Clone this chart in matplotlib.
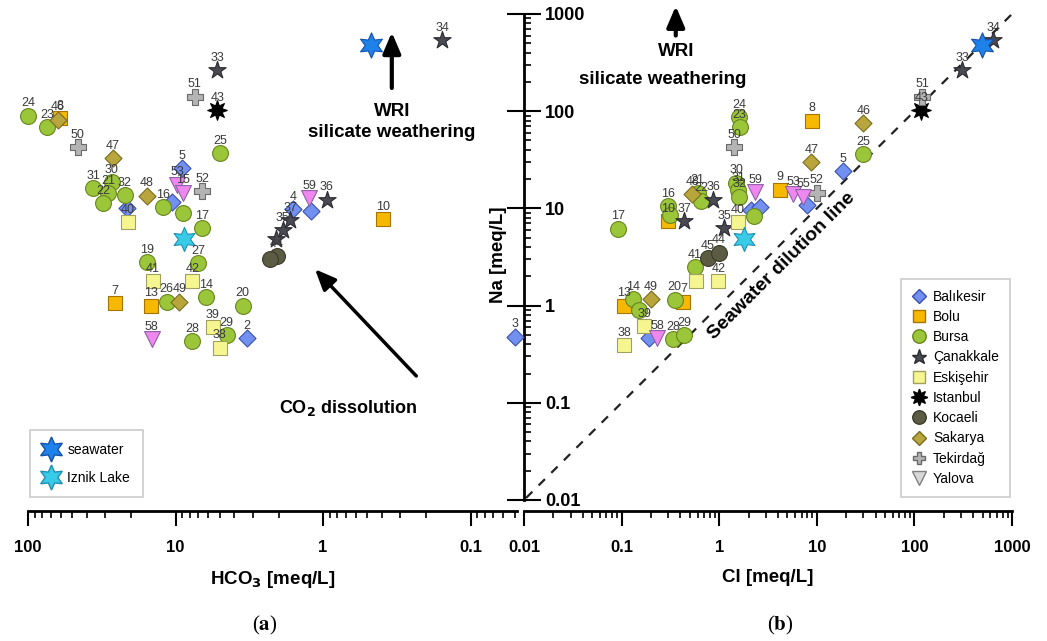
import matplotlib
matplotlib.use('Agg')
import matplotlib.pyplot as plt
from matplotlib.lines import Line2D
from matplotlib.ticker import LogLocator, NullFormatter
import numpy as np

plt.rcParams['font.family'] = ['Liberation Sans', 'DejaVu Sans']

regions = ['Balıkesir', 'Bolu', 'Bursa', 'Çanakkale', 'Eskişehir',
           'Istanbul', 'Kocaeli', 'Sakarya', 'Tekirdağ', 'Yalova']

# panel (a): HCO3 vs Na
a_reg = ['Balıkesir'] * 6 + ['Bolu'] * 4 + ['Bursa'] * 18 + ['Çanakkale'] * 6 + \
        ['Eskişehir'] * 5 + ['Istanbul'] + ['Kocaeli'] * 2 + ['Sakarya'] * 4 + \
        ['Tekirdağ'] * 3 + ['Yalova'] * 4
a_lab = ['5', '', '', '4', '', '2',
         '8', '7', '13', '10',
         '24', '23', '31', '30', '21', '22', '32', '16', '', '25', '17', '19', '27', '14', '26', '20', '28', '29',
         '34', '33', '36', '37', '35', '',
         '40', '41', '42', '39', '38',
         '43',
         '44', '',
         '46', '47', '48', '49',
         '51', '50', '52',
         '53', '15', '58', '59']
a_hco3 = [9.1, 10.6, 21.3, 1.6, 1.21, 3.3,
          61, 25.8, 14.6, 0.39,
          100, 74, 36, 27, 28.7, 31, 22, 12.2, 8.9, 5.0, 6.6, 15.7, 7.0, 6.2, 11.5, 3.5, 7.7, 4.5,
          0.155, 5.2, 0.94, 1.67, 1.87, 2.07,
          21, 14.3, 7.7, 5.6, 5.0,
          5.2,
          2.05, 2.3,
          63, 26.5, 15.7, 9.4,
          7.4, 46, 6.6,
          9.7, 8.9, 14.5, 1.24]
a_na = [26, 11.6, 10.1, 9.8, 9.3, 0.46,
        85, 1.06, 1.0, 7.7,
        90, 68, 16.2, 18.7, 14.4, 11.4, 13.7, 10.3, 9.0, 37, 6.3, 2.8, 2.75, 1.23, 1.1, 1.0, 0.43, 0.5,
        540, 266, 12.3, 7.6, 6.0, 4.8,
        7.2, 1.8, 1.8, 0.6, 0.37,
        103,
        3.2, 3.0,
        82, 33, 13.5, 1.1,
        141, 43, 15,
        17.6, 14.5, 0.45, 12.8]

# panel (b): Cl vs Na
b_reg = ['Balıkesir'] * 6 + ['Bolu'] * 5 + ['Bursa'] * 18 + ['Çanakkale'] * 5 + \
        ['Eskişehir'] * 5 + ['Istanbul'] + ['Kocaeli'] * 2 + ['Sakarya'] * 4 + \
        ['Tekirdağ'] * 3 + ['Yalova'] * 4
b_lab = ['3', '5', '', '', '', '',
         '8', '9', '10', '7', '13',
         '24', '23', '25', '17', '16', '', '21', '22', '30', '31', '32', '', '41', '14', '', '20', '28', '29',
         '34', '33', '36', '37', '35',
         '40', '', '42', '39', '38',
         '43',
         '45', '44',
         '46', '47', '48', '49',
         '51', '50', '52',
         '53', '55', '59', '58']
b_cl = [0.0081, 18.4, 8.0, 2.12, 2.6, 0.19,
        8.9, 4.2, 0.30, 0.43, 0.107,
        1.6, 1.62, 30, 0.091, 0.30, 0.31, 0.6, 0.65, 1.49, 1.56, 1.60, 2.27, 0.56, 0.13, 0.15, 0.35, 0.34, 0.44,
        640, 309, 0.87, 0.44, 1.12,
        1.56, 0.58, 0.98, 0.17, 0.107,
        118,
        0.77, 0.99,
        30, 8.8, 0.53, 0.2,
        120, 1.42, 10,
        5.7, 7.3, 2.33, 0.23]
b_na = [0.48, 24, 10.9, 9.7, 10.4, 0.46,
        80, 15.6, 7.4, 1.1, 1.0,
        87, 68, 36, 6.2, 10.5, 8.6, 14.5, 12.0, 18.4, 15.5, 13.2, 8.3, 2.5, 1.16, 0.91, 1.15, 0.45, 0.5,
        540, 266, 12.3, 7.4, 6.3,
        7.2, 1.8, 1.8, 0.62, 0.39,
        103,
        3.1, 3.5,
        76, 30, 14.0, 1.16,
        141, 43, 14.5,
        13.9, 13.2, 14.7, 0.46]

# reference waters: [panel a x, panel b x, Na]
seawater = [0.47, 494, 480]
iznik = [8.7, 1.8, 4.8]
dilution_cl = [0.0105, 1000]
dilution_ratio = 1.0

style = {
    'Balıkesir': dict(marker='D', s=75, c='#7290f0', edgecolors='#3a4fb0'),
    'Bolu': dict(marker='s', s=110, c='#f6b800', edgecolors='#a87400'),
    'Bursa': dict(marker='o', s=130, c='#9cc63a', edgecolors='#67861c'),
    'Çanakkale': dict(marker='*', s=170, c='#4a4a52', edgecolors='#2a2a30'),
    'Eskişehir': dict(marker='s', s=110, c='#f6f690', edgecolors='#a0a060'),
    'Istanbul': dict(marker=(8, 1, 0), s=200, c='#000000', edgecolors='#000000'),
    'Kocaeli': dict(marker='o', s=130, c='#5c5c44', edgecolors='#3a3a2a'),
    'Sakarya': dict(marker='D', s=75, c='#b8a63c', edgecolors='#7a6c20'),
    'Tekirdağ': dict(marker='P', s=120, c='#b4b4b4', edgecolors='#6a6a6a'),
    'Yalova': dict(marker='v', s=130, c='#ee88ee', edgecolors='#9060a8'),
}

fig = plt.figure(figsize=(10.47, 6.41), dpi=100)
axa = fig.add_axes([28 / 1047, 1 - 500 / 641, 489 / 1047, 486 / 641])
axb = fig.add_axes([524 / 1047, 1 - 500 / 641, 488 / 1047, 486 / 641])


def draw_points(ax, regs, labs, xs, ys):
    regs = np.array(regs)
    xs = np.array(xs)
    ys = np.array(ys)
    for r in regions:
        m = regs == r
        ax.scatter(xs[m], ys[m], linewidths=0.8, zorder=3, clip_on=False, **style[r])
    for lab, x, y in zip(labs, xs, ys):
        if lab:
            ax.annotate(lab, (x, y), xytext=(0, 4.5), textcoords='offset points',
                        ha='center', va='bottom', fontsize=9, color='#3a3a3a',
                        zorder=5, annotation_clip=False)


draw_points(axa, a_reg, a_lab, a_hco3, a_na)
draw_points(axb, b_reg, b_lab, b_cl, b_na)

star6 = (6, 1, 0)
for ax, i in ((axa, 0), (axb, 1)):
    ax.scatter([seawater[i]], [seawater[2]], marker=star6, s=330, c='#1e82ea',
               edgecolors='#1452a8', linewidths=0.8, zorder=4, clip_on=False)
    ax.scatter([iznik[i]], [iznik[2]], marker=star6, s=300, c='#38cbe8',
               edgecolors='#2090b0', linewidths=0.8, zorder=4, clip_on=False)

# seawater dilution line
dl = np.array(dilution_cl)
axb.plot(dl, dl * dilution_ratio, ls=(0, (4, 4)), color='#222222', lw=1.6, zorder=2)
axb.text(0.527, 0.482, 'Seawater dilution line', transform=axb.transAxes, rotation=45,
         ha='center', va='center', fontsize=14, fontweight='bold', rotation_mode='anchor')

# axes styling
for ax in (axa, axb):
    ax.set_xscale('log')
    ax.set_yscale('log')
    ax.set_ylim(0.01, 1000)
    ax.patch.set_alpha(0)
    for sp in ('top', 'right'):
        ax.spines[sp].set_visible(False)
    ax.spines['bottom'].set_position(('outward', 8))
    ax.spines['bottom'].set_linewidth(2)
    ax.tick_params(axis='x', which='major', direction='out', length=11, width=1.5,
                   labelsize=12, pad=10)
    ax.tick_params(axis='x', which='minor', direction='out', length=5, width=1.2)
    ax.xaxis.set_minor_locator(LogLocator(base=10, subs=np.arange(2, 10) * 1.0, numticks=30))
    ax.xaxis.set_minor_formatter(NullFormatter())

axa.spines['left'].set_visible(False)
axa.tick_params(axis='y', which='both', left=False, labelleft=False)
axa.set_xlim(100, 0.0484)
axa.set_xticks([100, 10, 1, 0.1], ['100', '10', '1', '0.1'])

axb.set_xlim(0.01, 1000)
axb.set_xticks([0.01, 0.1, 1, 10, 100, 1000], ['0.01', '0.1', '1', '10', '100', '1000'])
axb.set_yticks([0.01, 0.1, 1, 10, 100, 1000], ['0.01', '0.1', '1', '10', '100', '1000'])
axb.yaxis.set_minor_locator(LogLocator(base=10, subs=np.arange(2, 10) * 1.0, numticks=30))
axb.yaxis.set_minor_formatter(NullFormatter())
axb.spines['left'].set_linewidth(2)
axb.tick_params(axis='y', which='major', direction='inout', length=24, width=1.5,
                labelsize=13, pad=-27)
axb.tick_params(axis='y', which='minor', direction='in', length=5, width=1.2)
for lbl in axb.get_yticklabels():
    lbl.set_ha('left')
    lbl.set_fontweight('bold')
for ax in (axa, axb):
    for lbl in ax.get_xticklabels():
        lbl.set_fontweight('bold')

axa.set_xlabel(r'HCO$_\mathbf{3}$ [meq/L]', fontsize=13.5, fontweight='bold', labelpad=10)
axb.set_xlabel('Cl [meq/L]', fontsize=13.5, fontweight='bold', labelpad=10)
axb.set_ylabel('Na [meq/L]', fontsize=13.5, fontweight='bold')
axb.yaxis.set_label_coords(-0.035, 0.504)

# annotations panel (a)
axa.annotate('', xy=(0.744, 0.968), xytext=(0.744, 0.842), xycoords='axes fraction',
             arrowprops=dict(arrowstyle='-|>,head_length=0.7,head_width=0.3', lw=3,
                             color='black', mutation_scale=18), annotation_clip=False)
axa.text(0.744, 0.778, 'WRI\nsilicate weathering', transform=axa.transAxes, ha='center',
         va='center', fontsize=13.5, fontweight='bold', linespacing=1.35)
axa.annotate('', xy=(0.583, 0.479), xytext=(0.798, 0.251), xycoords='axes fraction',
             arrowprops=dict(arrowstyle='-|>,head_length=0.7,head_width=0.3', lw=2.5,
                             color='black', mutation_scale=18))
axa.text(0.654, 0.189, r'CO$_\mathbf{2}$ dissolution', transform=axa.transAxes, ha='center',
         va='center', fontsize=13, fontweight='bold')

# annotations panel (b)
axb.annotate('', xy=(0.311, 1.022), xytext=(0.311, 0.95), xycoords='axes fraction',
             arrowprops=dict(arrowstyle='-|>,head_length=0.7,head_width=0.3', lw=3,
                             color='black', mutation_scale=18), annotation_clip=False)
axb.text(0.311, 0.922, 'WRI', transform=axb.transAxes, ha='center', va='center',
         fontsize=13.5, fontweight='bold')
axb.text(0.285, 0.866, 'silicate weathering', transform=axb.transAxes, ha='center',
         va='center', fontsize=13.5, fontweight='bold')

# legends
handles = []
for r in regions:
    st = style[r]
    ms = np.sqrt(st['s']) * 0.85
    fc, ec = st['c'], st['edgecolors']
    if r == 'Yalova':
        fc, ec = '#d8d8d8', '#808080'
    handles.append(Line2D([], [], ls='none', marker=st['marker'], markersize=ms,
                          markerfacecolor=fc, markeredgecolor=ec, label=r))
leg = axb.legend(handles=handles, loc='lower right', bbox_to_anchor=(0.996, 0.006),
                 fontsize=10, labelspacing=0.45, handletextpad=0.5, handlelength=1.0,
                 borderpad=0.8, fancybox=False, edgecolor='#cccccc', framealpha=1,
                 borderaxespad=0)
leg.get_frame().set_linewidth(1.2)

ref_handles = [
    Line2D([], [], ls='none', marker=star6, markersize=18, markerfacecolor='#1e82ea',
           markeredgecolor='#1452a8', label='seawater'),
    Line2D([], [], ls='none', marker=star6, markersize=18, markerfacecolor='#38cbe8',
           markeredgecolor='#2090b0', label='Iznik Lake'),
]
leg2 = axa.legend(handles=ref_handles, loc='lower left', bbox_to_anchor=(0.004, 0.006),
                  fontsize=10, labelspacing=1.0, handletextpad=0.5, handlelength=1.3,
                  borderpad=0.9, fancybox=False, edgecolor='#cccccc', framealpha=1,
                  borderaxespad=0)
leg2.get_frame().set_linewidth(1.2)

fig.text(265 / 1047, 1 - 625 / 641, r'($\mathbf{a}$)', ha='center', va='center', fontsize=15,
         family='Liberation Serif', math_fontfamily='stix')
fig.text(780 / 1047, 1 - 625 / 641, r'($\mathbf{b}$)', ha='center', va='center', fontsize=15,
         family='Liberation Serif', math_fontfamily='stix')

fig.savefig('out.png', dpi=100)
